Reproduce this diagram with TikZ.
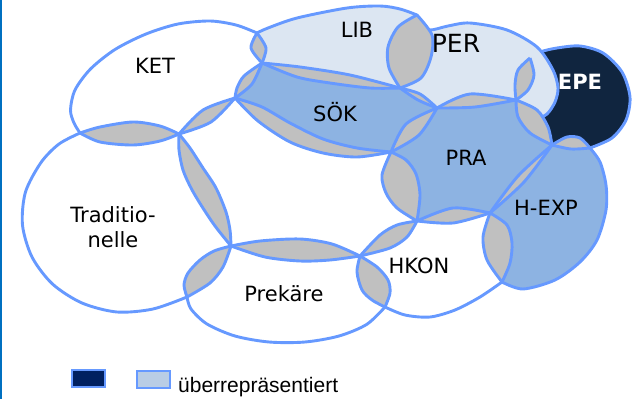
\documentclass[tikz,border=0pt]{standalone}
\usepackage{fontspec}
\setmainfont{DejaVu Sans}
\newfontfamily\legfont{Liberation Sans}
\definecolor{ol}{RGB}{102,153,255}
\definecolor{lensgray}{RGB}{192,192,192}
\definecolor{lightfill}{RGB}{220,230,242}
\definecolor{midfill}{RGB}{141,179,226}
\definecolor{epefill}{RGB}{16,37,63}
\definecolor{legdark}{RGB}{0,32,96}
\definecolor{leglight}{RGB}{185,205,229}
\definecolor{edgeblue}{RGB}{0,112,192}
% ---- arcs (pixel coordinates, y downward) ----
\def\KaP{plot[smooth] coordinates {(257,33) (236,25) (210,21) (178,24) (146,34) (115,49.5) (90.5,69) (75,90) (70.5,110) (74,123) (80,133)}}
\def\KbP{plot[smooth] coordinates {(80,133) (100,142) (133,145) (160,141) (179,134)}}
\def\KcP{plot[smooth] coordinates {(179,134) (211,122) (235,98)}}
\def\KdP{plot[smooth] coordinates {(235,98) (252,84) (262,63)}}
\def\KeP{plot[smooth] coordinates {(262,63) (266,48) (257,33)}}
\def\DaP{plot[smooth] coordinates {(187,297) (153,309) (117,312) (82,303) (52.5,284) (32,257) (22.5,225) (25.5,192) (41,162.5) (59,144) (80,133)}}
\def\DbP{plot[smooth] coordinates {(80,133) (100,127) (133,122) (160,126) (179,134)}}
\def\DcP{plot[smooth] coordinates {(179,134) (190,148) (203,168) (216,188) (226,212) (230,230) (231,246)}}
\def\DdP{plot[smooth] coordinates {(231,246) (223,267) (210,283) (187,297)}}
\def\PaP{plot[smooth] coordinates {(187,297) (184,285) (188,273) (200,260) (214,251) (231,246)}}
\def\PbP{plot[smooth] coordinates {(231,246) (260,241) (300,239) (332,244) (360,256)}}
\def\PcP{plot[smooth] coordinates {(360,256) (377,267) (388,280) (390,293) (385,307)}}
\def\PdP{plot[smooth] coordinates {(385,307) (366.7,324.4) (339,336) (305,342) (269,342) (235,336) (207,324) (191,309) (187,297)}}
\def\CaP{plot[smooth] coordinates {(179,134) (203,110) (235,98)}}
\def\CbP{plot[smooth] coordinates {(235,98) (262,107) (290,123) (323,139) (357,148) (391,152)}}
\def\CcP{plot[smooth] coordinates {(391,152) (406,160) (416,174) (420,195) (417,221)}}
\def\CdP{plot[smooth] coordinates {(417,221) (407,237) (390,248) (360,256)}}
\def\CeP{plot[smooth] coordinates {(360,256) (330,260) (300,261) (265,257) (231,246)}}
\def\CfP{plot[smooth] coordinates {(231,246) (215,226) (201,205) (191,188) (183,170) (179,150) (179,134)}}
\def\NaP{plot[smooth] coordinates {(360,256) (380,235) (397,225) (417,221)}}
\def\NbP{plot[smooth] coordinates {(417,221) (453,208) (490,213)}}
\def\NcP{plot[smooth] coordinates {(490,213) (507,225) (512,243) (510,263) (502,282)}}
\def\NdP{plot[smooth] coordinates {(502,282) (480,297) (455,310) (430,317) (405,315) (385,307)}}
\def\NeP{plot[smooth] coordinates {(385,307) (372,300) (362,290) (357,272) (360,256)}}
\def\HaP{plot[smooth] coordinates {(490,213) (518,176) (552,145)}}
\def\HbP{plot[smooth] coordinates {(552,145) (567,137) (580,138) (590,148)}}
\def\HcP{plot[smooth] coordinates {(590,148) (600,162) (606,185) (606,210) (597,240) (580,262) (555,280) (523,289) (502,282)}}
\def\HdP{plot[smooth] coordinates {(502,282) (487,260) (483,237) (490,213)}}
\def\AaP{plot[smooth] coordinates {(437,108) (470,94) (516,100)}}
\def\AbP{plot[smooth] coordinates {(516,100) (537,110) (548,127) (552,145)}}
\def\AcP{plot[smooth] coordinates {(552,145) (524,182) (490,213)}}
\def\AdP{plot[smooth] coordinates {(490,213) (453,223) (417,221)}}
\def\AeP{plot[smooth] coordinates {(417,221) (397,208) (386,193) (382,175) (391,152)}}
\def\AfP{plot[smooth] coordinates {(391,152) (406,124) (437,108)}}
\def\SaP{plot[smooth] coordinates {(262,63) (244,76) (237,88) (235,98)}}
\def\SbP{plot[smooth] coordinates {(235,98) (258,121) (290,142) (323,153) (357,157) (391,152)}}
\def\ScP{plot[smooth] coordinates {(391,152) (419,135) (437,108)}}
\def\SdP{plot[smooth] coordinates {(437,108) (420,94) (400,88)}}
\def\SeP{plot[smooth] coordinates {(400,88) (350,75) (300,67) (262,63)}}
\def\LaP{plot[smooth] coordinates {(257,33) (251,48) (262,63)}}
\def\LbP{plot[smooth] coordinates {(262,63) (297,77) (330,83) (370,88) (400,88)}}
\def\LcP{plot[smooth] coordinates {(400,88) (421,78) (431,57) (432,35) (417,15)}}
\def\LdP{plot[smooth] coordinates {(417,15) (400,9) (380,6) (347,8) (297,18) (268,28) (257,33)}}
\def\RaP{plot[smooth] coordinates {(417,15) (398,27) (388,47) (389,68) (400,88)}}
\def\RbP{plot[smooth] coordinates {(400,88) (418,100) (437,108)}}
\def\RcP{plot[smooth] coordinates {(437,108) (475,107) (516,100)}}
\def\RcrP{plot[smooth] coordinates {(516,100) (475,107) (437,108)}}
\def\RdP{plot[smooth] coordinates {(516,100) (526,110) (536,118) (547,114) (555,102) (558,88) (553,70) (537,47) (507,30) (470,23) (448,26) (430,30) (420,24) (417,15)}}
\def\EaP{plot[smooth] coordinates {(516,100) (518,117) (530,133) (552,145)}}
\def\EbP{plot[smooth] coordinates {(552,145) (571,149) (590,148)}}
\def\EcP{plot[smooth] coordinates {(590,148) (612,138) (626,120) (630,97) (622,72) (603,53) (580,46) (557,48) (540,52) (530,58)}}
\def\EeP{plot[smooth] coordinates {(530,58) (518,70) (515,85) (516,100)}}
\def\LzP{plot[smooth] coordinates {(516,100) (528,90) (534,75) (530,58)}}
% ---- closed regions ----
\edef\pKET{\KaP --\KbP --\KcP --\KdP --\KeP -- cycle}
\edef\pTRAD{\DaP --\DbP --\DcP --\DdP -- cycle}
\edef\pPREK{\PaP --\PbP --\PcP --\PdP -- cycle}
\edef\pCEN{\CaP --\CbP --\CcP --\CdP --\CeP --\CfP -- cycle}
\edef\pHKON{\NaP --\NbP --\NcP --\NdP --\NeP -- cycle}
\edef\pHEXP{\HaP --\HbP --\HcP --\HdP -- cycle}
\edef\pPRA{\AaP --\AbP --\AcP --\AdP --\AeP --\AfP -- cycle}
\edef\pSOK{\SaP --\SbP --\ScP --\SdP --\SeP -- cycle}
\edef\pLIB{\LaP --\LbP --\LcP --\LdP -- cycle}
\edef\pPER{\RaP --\RbP --\RcP --\RdP -- cycle}
\edef\pEPE{\EcP --\EeP --\EaP --\EbP -- cycle}
\edef\lensLP{\LcP --\RaP -- cycle}
\edef\lensSP{\SdP --\RbP -- cycle}
\edef\lensAP{\AaP --\RcrP -- cycle}
\edef\lensLz{\EeP --\LzP -- cycle}
\newcommand\lensof[2]{\begin{scope}\clip #1;\fill[lensgray] #2;\end{scope}}
\begin{document}
\begin{tikzpicture}[x=1pt,y=-1pt,
  outl/.style={draw=ol,line width=2.9pt,line join=round},
  lab/.style={font=\fontsize{21}{25}\selectfont,inner sep=0pt,anchor=base}]
\useasboundingbox (0,0) rectangle (642,399);
\fill[white] (0,0) rectangle (642,399);
\fill[edgeblue] (0,0) rectangle (1.6,399);
% layer 1: EPE, then PER over it
\fill[epefill] \pEPE;
\draw[outl] \EcP;
\fill[lightfill] \pPER;
\draw[outl] \RdP;
% layer 2: coloured blobs
\fill[lightfill] \pLIB;
\fill[midfill] \pSOK;
\fill[midfill] \pPRA;
\fill[midfill] \pHEXP;
% layer 3: grey overlaps
\lensof{\pKET}{\pTRAD}
\lensof{\pKET}{\pCEN}
\lensof{\pKET}{\pSOK}
\lensof{\pKET}{\pLIB}
\lensof{\pTRAD}{\pCEN}
\lensof{\pTRAD}{\pPREK}
\lensof{\pPREK}{\pCEN}
\lensof{\pPREK}{\pHKON}
\lensof{\pHKON}{\pCEN}
\lensof{\pHKON}{\pPRA}
\lensof{\pHKON}{\pHEXP}
\lensof{\pPRA}{\pCEN}
\lensof{\pPRA}{\pSOK}
\lensof{\pPRA}{\pHEXP}
\lensof{\pSOK}{\pCEN}
\lensof{\pSOK}{\pLIB}
\lensof{\pHEXP}{\pEPE}
\lensof{\pPRA}{\pEPE}
\fill[lensgray] \lensLP;
\fill[lensgray] \lensSP;
\fill[lensgray] \lensAP;
\fill[lensgray] \lensLz;
% layer 4: outlines
\draw[outl] \pKET;
\draw[outl] \pTRAD;
\draw[outl] \pPREK;
\draw[outl] \pCEN;
\draw[outl] \pHKON;
\draw[outl] \pHEXP;
\draw[outl] \pSOK;
\draw[outl] \pLIB;
\draw[outl] \pPRA;
\draw[outl] \EaP;
\draw[outl] \EbP;
\draw[outl] \EeP;
\draw[outl] \RaP;
\draw[outl] \RbP;
\draw[outl] \RcP;
\draw[outl] \LzP;
% labels
\node[lab] (ket) at (155,73) {KET};
\node[lab] (lib) at (357,37) {LIB};
\node[lab,font=\fontsize{25}{30}\selectfont] (per) at (456,52) {PER};
\node[lab,font=\bfseries\fontsize{21}{25}\selectfont,text=white] (epe) at (580,89) {EPE};
\node[lab] (sok) at (335,121) {SÖK};
\node[lab] (pra) at (466,165) {PRA};
\node[lab] (hexp) at (546,215) {H-EXP};
\node[lab] (hkon) at (419,273) {HKON};
\node[lab] (prek) at (284,301) {Prekäre};
\node[lab] (trad1) at (113,222) {Traditio-};
\node[lab] (trad2) at (113,247) {nelle};
% legend
\draw[draw=ol,line width=2.5pt,fill=legdark] (72,370) rectangle (105,387);
\draw[draw=ol,line width=2.5pt,fill=leglight] (137,371) rectangle (170,388);
\node[anchor=base west,inner sep=0pt,font=\legfont\fontsize{21}{25}\selectfont] (leg) at (178,392) {überrepräsentiert};
\end{tikzpicture}
\end{document}
